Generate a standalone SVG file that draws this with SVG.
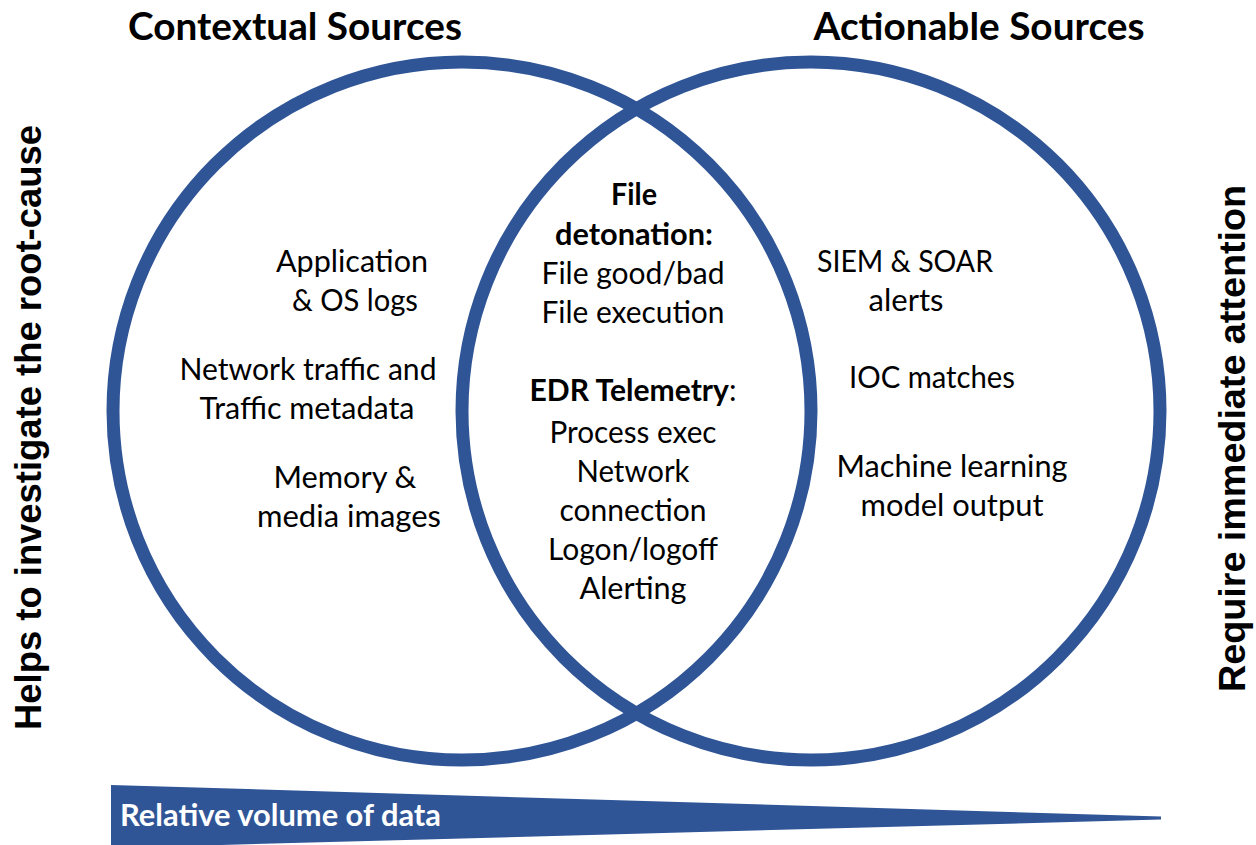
<svg xmlns="http://www.w3.org/2000/svg" width="1256" height="845" viewBox="0 0 1256 845">
  <style>
    .ring { fill: none; stroke: #2F5597; stroke-width: 13; }
    .head { font-family: Lato, "Open Sans", sans-serif; font-weight: bold; font-size: 38px; fill: #000; text-anchor: middle; }
    .body { font-family: Lato, "Open Sans", sans-serif; font-size: 30px; fill: #000; text-anchor: middle; }
    .strong { font-weight: bold; }
    .side { font-family: "Liberation Sans", Arial, sans-serif; font-weight: bold; font-size: 36px; fill: #000; text-anchor: middle; }
    .bar { fill: #2F5597; }
    .barText { font-family: Lato, "Open Sans", sans-serif; font-weight: bold; font-size: 30px; fill: #fff; }
  </style>

  <rect width="1256" height="845" fill="#fff"/>

  <!-- Section titles -->
  <text class="head" x="295" y="40" textLength="334" lengthAdjust="spacingAndGlyphs">Contextual Sources</text>
  <text class="head" x="979" y="40" textLength="331" lengthAdjust="spacingAndGlyphs">Actionable Sources</text>

  <!-- Axis captions -->
  <text class="side" transform="translate(41,427.5) rotate(-90)" textLength="605" lengthAdjust="spacingAndGlyphs">Helps to investigate the root-cause</text>
  <text class="side" transform="translate(1245,438.5) rotate(-90)" textLength="507" lengthAdjust="spacingAndGlyphs">Require immediate attention</text>

  <!-- Two overlapping sets -->
  <g id="contextual">
    <circle class="ring" cx="462" cy="411" r="349"/>
    <text class="body" x="352" y="272" textLength="152" lengthAdjust="spacingAndGlyphs">Application</text>
    <text class="body" x="355" y="311" textLength="126" lengthAdjust="spacingAndGlyphs">&amp; OS logs</text>
    <text class="body" x="308" y="380" textLength="257" lengthAdjust="spacingAndGlyphs">Network traffic and</text>
    <text class="body" x="307" y="419" textLength="215" lengthAdjust="spacingAndGlyphs">Traffic metadata</text>
    <text class="body" x="345" y="488" textLength="143" lengthAdjust="spacingAndGlyphs">Memory &amp;</text>
    <text class="body" x="349" y="527" textLength="184" lengthAdjust="spacingAndGlyphs">media images</text>
  </g>

  <g id="actionable">
    <circle class="ring" cx="811" cy="411" r="349"/>
    <text class="body" x="905" y="272" textLength="176" lengthAdjust="spacingAndGlyphs">SIEM &amp; SOAR</text>
    <text class="body" x="906" y="311" textLength="75" lengthAdjust="spacingAndGlyphs">alerts</text>
    <text class="body" x="932" y="388" textLength="166" lengthAdjust="spacingAndGlyphs">IOC matches</text>
    <text class="body" x="952" y="477" textLength="231" lengthAdjust="spacingAndGlyphs">Machine learning</text>
    <text class="body" x="952" y="516" textLength="183" lengthAdjust="spacingAndGlyphs">model output</text>
  </g>

  <g id="overlap">
    <text class="body strong" x="634" y="205" textLength="46" lengthAdjust="spacingAndGlyphs">File</text>
    <text class="body strong" x="634" y="245" textLength="158" lengthAdjust="spacingAndGlyphs">detonation:</text>
    <text class="body" x="633" y="284" textLength="183" lengthAdjust="spacingAndGlyphs">File good/bad</text>
    <text class="body" x="633" y="323" textLength="183" lengthAdjust="spacingAndGlyphs">File execution</text>
    <text class="body" x="633" y="401" textLength="207" lengthAdjust="spacingAndGlyphs"><tspan class="strong">EDR Telemetry</tspan>:</text>
    <text class="body" x="633" y="443" textLength="167" lengthAdjust="spacingAndGlyphs">Process exec</text>
    <text class="body" x="633" y="482" textLength="113" lengthAdjust="spacingAndGlyphs">Network</text>
    <text class="body" x="633" y="521" textLength="147" lengthAdjust="spacingAndGlyphs">connection</text>
    <text class="body" x="633" y="560" textLength="170" lengthAdjust="spacingAndGlyphs">Logon/logoff</text>
    <text class="body" x="633" y="599" textLength="107" lengthAdjust="spacingAndGlyphs">Alerting</text>
  </g>

  <!-- Tapering volume bar -->
  <g id="volume">
    <polygon class="bar" points="111,785 1161,816.5 1161,819.5 111,848"/>
    <text class="barText" x="120" y="826" textLength="321" lengthAdjust="spacingAndGlyphs">Relative volume of data</text>
  </g>
</svg>
